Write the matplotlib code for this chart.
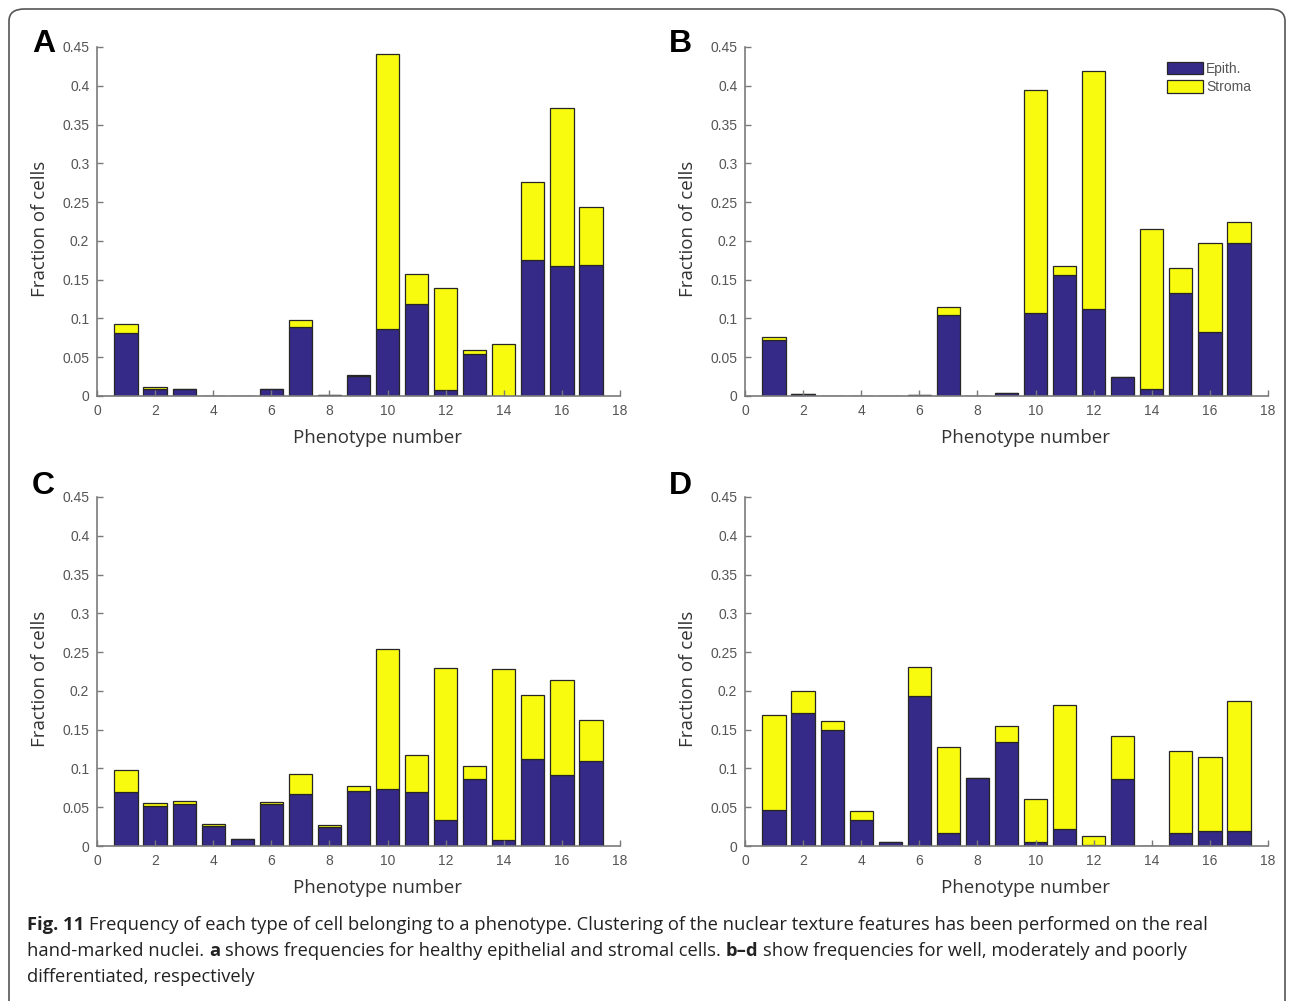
import numpy as np
import matplotlib
matplotlib.use("Agg")
import matplotlib.pyplot as plt
from matplotlib.patches import FancyBboxPatch

# phenotype clusters 1..17
phenotypes = np.arange(1, 18)

# fraction of cells (epithelial part and total bar height) per panel
epith_a = [0.081, 0.0095, 0.0095, 0, 0, 0.0086, 0.0895, 0.0017, 0.026, 0.086, 0.119, 0.0077, 0.054, 0, 0.176, 0.168, 0.1695]
total_a = [0.0925, 0.012, 0.0095, 0, 0, 0.0086, 0.098, 0.0017, 0.027, 0.441, 0.157, 0.139, 0.059, 0.067, 0.276, 0.371, 0.244]

epith_b = [0.072, 0.002, 0, 0, 0, 0.0013, 0.105, 0, 0.0034, 0.107, 0.156, 0.112, 0.024, 0.0095, 0.133, 0.083, 0.197]
total_b = [0.0757, 0.002, 0, 0, 0, 0.0013, 0.115, 0, 0.0034, 0.394, 0.167, 0.419, 0.024, 0.215, 0.165, 0.197, 0.224]

epith_c = [0.070, 0.051, 0.054, 0.026, 0.0095, 0.054, 0.0675, 0.0245, 0.071, 0.074, 0.070, 0.033, 0.0865, 0.008, 0.112, 0.091, 0.109]
total_c = [0.0985, 0.056, 0.058, 0.028, 0.0095, 0.057, 0.093, 0.027, 0.078, 0.254, 0.117, 0.229, 0.103, 0.228, 0.195, 0.214, 0.163]

epith_d = [0.0465, 0.172, 0.150, 0.034, 0.005, 0.193, 0.017, 0.088, 0.134, 0.005, 0.0215, 0.0017, 0.0865, 0, 0.017, 0.0198, 0.0198]
total_d = [0.169, 0.1996, 0.161, 0.0456, 0.005, 0.231, 0.128, 0.088, 0.155, 0.060, 0.182, 0.013, 0.1415, 0, 0.1226, 0.1144, 0.1876]

panel_letters = ["A", "B", "C", "D"]
series_names = ["Epith.", "Stroma"]

yticks = [0, 0.05, 0.1, 0.15, 0.2, 0.25, 0.3, 0.35, 0.4, 0.45]
ytick_labels = ["0", "0.05", "0.1", "0.15", "0.2", "0.25", "0.3", "0.35", "0.4", "0.45"]
xticks = [0, 2, 4, 6, 8, 10, 12, 14, 16, 18]

caption_lines = [
    [("Fig. 11", "bold"), ("Frequency of each type of cell belonging to a phenotype. Clustering of the nuclear texture features has been performed on the real", "normal")],
    [("hand-marked nuclei.", "normal"), ("a", "bold"), ("shows frequencies for healthy epithelial and stromal cells.", "normal"),
     ("b\u2013d", "bold"), ("show frequencies for well, moderately and poorly", "normal")],
    [("differentiated, respectively", "normal")],
]

navy = "#352A87"
yellow = "#F9FB0E"
gray = "#7a7a7a"
tickgray = "#555555"

W, H = 1293, 1001
fig = plt.figure(figsize=(W / 100, H / 100), dpi=100)

# outer frame
frame = FancyBboxPatch((9 / W, -0.02), (1285 - 9) / W, 1 - 9 / H + 0.02,
                       boxstyle="round,pad=0,rounding_size=0.012",
                       transform=fig.transFigure, fill=False,
                       edgecolor="#555555", linewidth=1.2)
fig.patches.append(frame)

# axes boxes in pixels: left, top of the 0.45 tick, bottom (zero)
boxes = [(97, 47, 396), (745, 47, 396), (97, 497, 846), (745, 497, 846)]
data = [(epith_a, total_a), (epith_b, total_b), (epith_c, total_c), (epith_d, total_d)]
letter_pos = [(32, 52), (669, 52), (32, 494), (669, 494)]

for i, ((l, t, b), (ep, tot)) in enumerate(zip(boxes, data)):
    ax = fig.add_axes([l / W, 1 - b / H, 523 / W, (b - t) / H])
    ep = np.array(ep)
    st = np.array(tot) - ep
    ax.bar(phenotypes, ep, width=0.8, color=navy, edgecolor="#262626", linewidth=0.9, label=series_names[0])
    ax.bar(phenotypes, st, bottom=ep, width=0.8, color=yellow, edgecolor="#262626", linewidth=0.9, label=series_names[1])
    ax.set_xlim(0, 18)
    ax.set_ylim(0, 0.45)
    ax.set_xticks(xticks)
    ax.set_yticks(yticks)
    ax.set_yticklabels(ytick_labels)
    for s in ["top", "right"]:
        ax.spines[s].set_visible(False)
    for s in ["left", "bottom"]:
        ax.spines[s].set_color(gray)
        ax.spines[s].set_linewidth(1.2)
    ax.tick_params(direction="in", length=4, width=1, color=gray, labelcolor=tickgray, pad=5.5)
    for lab in ax.get_xticklabels() + ax.get_yticklabels():
        lab.set_fontfamily("Liberation Sans")
        lab.set_fontsize(10)
    ax.set_xlabel("Phenotype number", family="Open Sans", fontsize=13.5, color="#333333")
    ax.set_ylabel("Fraction of cells", family="Open Sans", fontsize=13.5, color="#333333")
    ax.xaxis.set_label_coords(0.537, -0.12)
    ax.xaxis.label.set_va("center")
    ax.yaxis.set_label_coords(-0.109, 0.478)
    ax.yaxis.label.set_va("center")
    ax.patch.set_alpha(0)
    fig.text(letter_pos[i][0] / W, 1 - letter_pos[i][1] / H, panel_letters[i],
             family="Liberation Sans", fontweight="bold", fontsize=23, va="baseline", ha="left")
    if i == 1:
        ax.legend(loc="upper left", bbox_to_anchor=(1167 / W, 1 - 62 / H), bbox_transform=fig.transFigure,
                  frameon=False, borderpad=0, borderaxespad=0, handlelength=2.6, handleheight=1.0,
                  handletextpad=0.2, labelspacing=0.3,
                  prop={"family": "Liberation Sans", "size": 10}, labelcolor=tickgray)

# caption with bold fragments
r = fig.canvas.get_renderer()
cap_size = 13.2
def text_w(s, weight):
    tt = fig.text(0, 0, s, family="Open Sans", fontsize=cap_size, fontweight=weight)
    w = tt.get_window_extent(r).width
    tt.remove()
    return w

space = text_w("x x", "normal") - text_w("xx", "normal")
for k, line in enumerate(caption_lines):
    x = 27
    y = 925 + 26 * k
    for s, weight in line:
        tt = fig.text(x / W, 1 - y / H, s, family="Open Sans", fontsize=cap_size, fontweight=weight,
                      color="#222222", va="center", ha="left")
        x += tt.get_window_extent(r).width + space

fig.savefig("out.png", dpi=100)
